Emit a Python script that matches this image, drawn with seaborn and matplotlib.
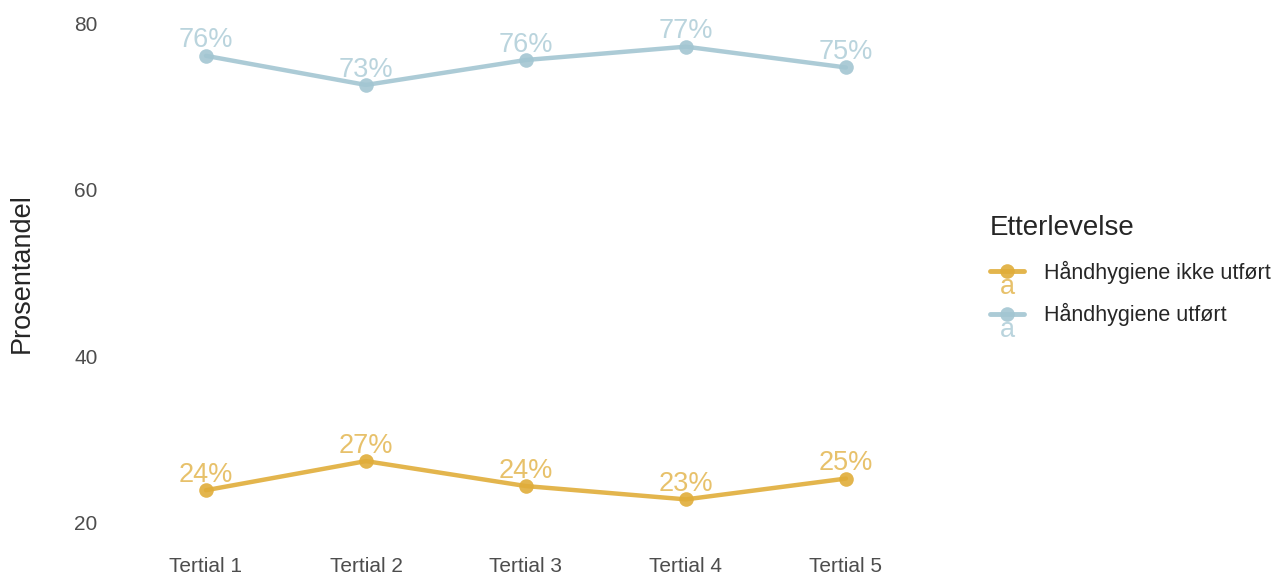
import pandas as pd
import seaborn as sns
import matplotlib.pyplot as plt
from matplotlib.legend_handler import HandlerLine2D
from matplotlib.text import Text

### data
tertials = ["Tertial 1", "Tertial 2", "Tertial 3", "Tertial 4", "Tertial 5"]
ikke_utfort = [23.9, 27.4, 24.4, 22.8, 25.3]
utfort = [76.1, 72.6, 75.6, 77.2, 74.7]
groups = ["Håndhygiene ikke utført", "Håndhygiene utført"]
colors = ["#E0AD3A", "#A3C6D2"]

df = pd.DataFrame({
    "Tertial": tertials * 2,
    "Prosentandel": ikke_utfort + utfort,
    "Etterlevelse": [groups[0]] * 5 + [groups[1]] * 5,
})

sns.set_theme(style="white")
plt.rcParams["font.family"] = ["Liberation Sans", "DejaVu Sans"]

fig = plt.figure(figsize=(12.77, 5.76), dpi=100)
ax = fig.add_axes([0.0861, 0.055, 0.6515, 0.942])

palette = dict(zip(groups, colors))
sns.lineplot(data=df, x="Tertial", y="Prosentandel", hue="Etterlevelse",
             palette=palette, linewidth=3.2, marker="o", markersize=10.5,
             markeredgewidth=0, alpha=0.9, ax=ax, legend=False)

###percent labels over each point
for i, row in df.iterrows():
    ax.annotate(f"{round(row['Prosentandel'])}%",
                (tertials.index(row["Tertial"]), row["Prosentandel"]),
                xytext=(0, 6), textcoords="offset points",
                ha="center", va="baseline", fontsize=19.5,
                color=palette[row["Etterlevelse"]], alpha=0.75)

ax.set_xlim(-0.6, 4.6)
ax.set_ylim(17.4, 82.6)
ax.set_yticks([20, 40, 60, 80])
ax.set_xlabel("")
ax.set_ylabel("Prosentandel", fontsize=19.5, labelpad=28)
ax.tick_params(axis="both", labelsize=15, colors="#4d4d4d", length=0)
ax.tick_params(axis="y", pad=9)
ax.tick_params(axis="x", pad=9)
sns.despine(ax=ax, left=True, bottom=True)
ax.grid(False)


###legend key: line + point with an "a" below (ggplot text key)
class KeyWithA(HandlerLine2D):
    def create_artists(self, legend, orig_handle, xdescent, ydescent,
                       width, height, fontsize, trans):
        arts = super().create_artists(legend, orig_handle, xdescent, ydescent,
                                      width, height, fontsize, trans)
        t = Text(width / 2 - xdescent, -height * 0.55, "a", ha="center",
                 va="center", fontsize=19.5, color=orig_handle.get_color(),
                 alpha=0.75, transform=trans)
        return arts + [t]


handles = [plt.Line2D([], [], color=c, lw=3.5, marker="o", markersize=10.5,
                      markeredgewidth=0, alpha=0.9) for c in colors]
leg = fig.legend(handles, groups, title="Etterlevelse",
                 handler_map={plt.Line2D: KeyWithA()},
                 loc="upper left", bbox_to_anchor=(0.760, 0.66),
                 frameon=False, fontsize=15.5, title_fontsize=20,
                 handlelength=1.6, handletextpad=0.9, labelspacing=0.9)
leg._legend_box.align = "left"

fig.savefig("out.png", dpi=100)
